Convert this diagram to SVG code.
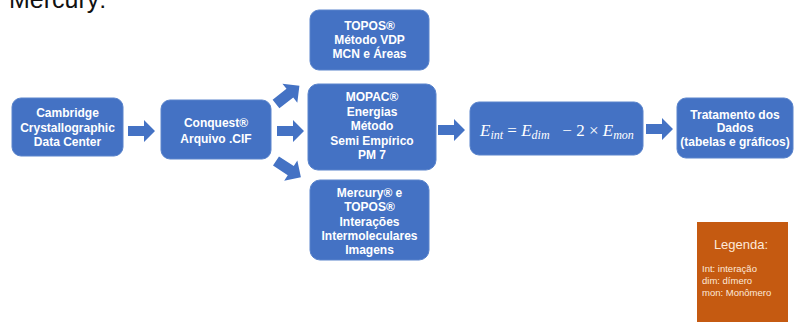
<svg xmlns="http://www.w3.org/2000/svg" width="800" height="322" viewBox="0 0 800 322">
<defs>
<style>
.node{fill:#4472C4;stroke:#5a84cc;stroke-width:1}
.t{font-family:"Liberation Sans",Arial,sans-serif;font-weight:bold;font-size:12px;fill:#ffffff;text-anchor:middle}
.arrow{fill:#4472C4}
.m{font-family:"Liberation Serif","Times New Roman",serif;fill:#ffffff;font-size:17px}
.lg{font-family:"Liberation Sans",Arial,sans-serif;fill:#fde9d9}
</style>
<path id="arr" d="M0,-5 H16 V-11 L27,0 L16,11 V5 H0 Z"/>
</defs>
<rect width="800" height="322" fill="#ffffff"/>
<text x="9" y="8" font-family="Liberation Sans,Arial,sans-serif" font-size="25" fill="#111111">Mercury:</text>

<g id="connectors" class="arrow">
<use href="#arr" transform="translate(128,131)"/>
<use href="#arr" transform="translate(276,104) rotate(-38) scale(1.1)"/>
<use href="#arr" transform="translate(277,131)"/>
<use href="#arr" transform="translate(276,161) rotate(33) scale(1.1)"/>
<use href="#arr" transform="translate(438,130)"/>
<use href="#arr" transform="translate(646,129)"/>
</g>

<g id="n1">
<rect class="node" x="12" y="98" width="111" height="58" rx="9"/>
<text class="t" x="67.5" y="117">Cambridge</text>
<text class="t" x="67.5" y="131.5">Crystallographic</text>
<text class="t" x="67.5" y="146">Data Center</text>
</g>

<g id="n2">
<rect class="node" x="161" y="100" width="110" height="59" rx="9"/>
<text class="t" x="216" y="127">Conquest®</text>
<text class="t" x="216" y="143">Arquivo .CIF</text>
</g>

<g id="n3">
<rect class="node" x="310" y="10" width="119" height="60" rx="9"/>
<text class="t" x="369.5" y="30">TOPOS®</text>
<text class="t" x="369.5" y="44">Método VDP</text>
<text class="t" x="369.5" y="58">MCN e Áreas</text>
</g>

<g id="n4">
<rect class="node" x="308" y="84" width="128" height="86" rx="10"/>
<text class="t" x="372" y="101">MOPAC®</text>
<text class="t" x="372" y="115.5">Energias</text>
<text class="t" x="372" y="130">Método</text>
<text class="t" x="372" y="144.5">Semi Empírico</text>
<text class="t" x="372" y="159">PM 7</text>
</g>

<g id="n5">
<rect class="node" x="310" y="180" width="119" height="80" rx="10"/>
<text class="t" x="369.5" y="197">Mercury® e</text>
<text class="t" x="369.5" y="211">TOPOS®</text>
<text class="t" x="369.5" y="225.5">Interações</text>
<text class="t" x="369.5" y="239.5">Intermoleculares</text>
<text class="t" x="369.5" y="253.5">Imagens</text>
</g>

<g id="n6">
<rect class="node" x="470" y="102" width="173" height="53" rx="9"/>
<text class="m" x="480" y="136"><tspan font-style="italic">E</tspan><tspan font-style="italic" font-size="12" dy="3">int</tspan><tspan dy="-3"> = </tspan><tspan font-style="italic">E</tspan><tspan font-style="italic" font-size="12" dy="3">dim</tspan><tspan dy="-3" xml:space="preserve">   − 2 × </tspan><tspan font-style="italic">E</tspan><tspan font-style="italic" font-size="12" dy="3">mon</tspan></text>
</g>

<g id="n7">
<rect class="node" x="677" y="98" width="116" height="60" rx="9"/>
<text class="t" x="735" y="119">Tratamento dos</text>
<text class="t" x="735" y="132">Dados</text>
<text class="t" x="735" y="146">(tabelas e gráficos)</text>
</g>

<g id="legend">
<rect x="697" y="222" width="91" height="100" fill="#C55A11"/>
<text class="lg" x="741" y="249" font-size="13" text-anchor="middle">Legenda:</text>
<text class="lg" x="702" y="272" font-size="9.5">Int: interação</text>
<text class="lg" x="702" y="284" font-size="9.5">dim: dímero</text>
<text class="lg" x="702" y="296" font-size="9.5">mon: Monômero</text>
</g>
</svg>
